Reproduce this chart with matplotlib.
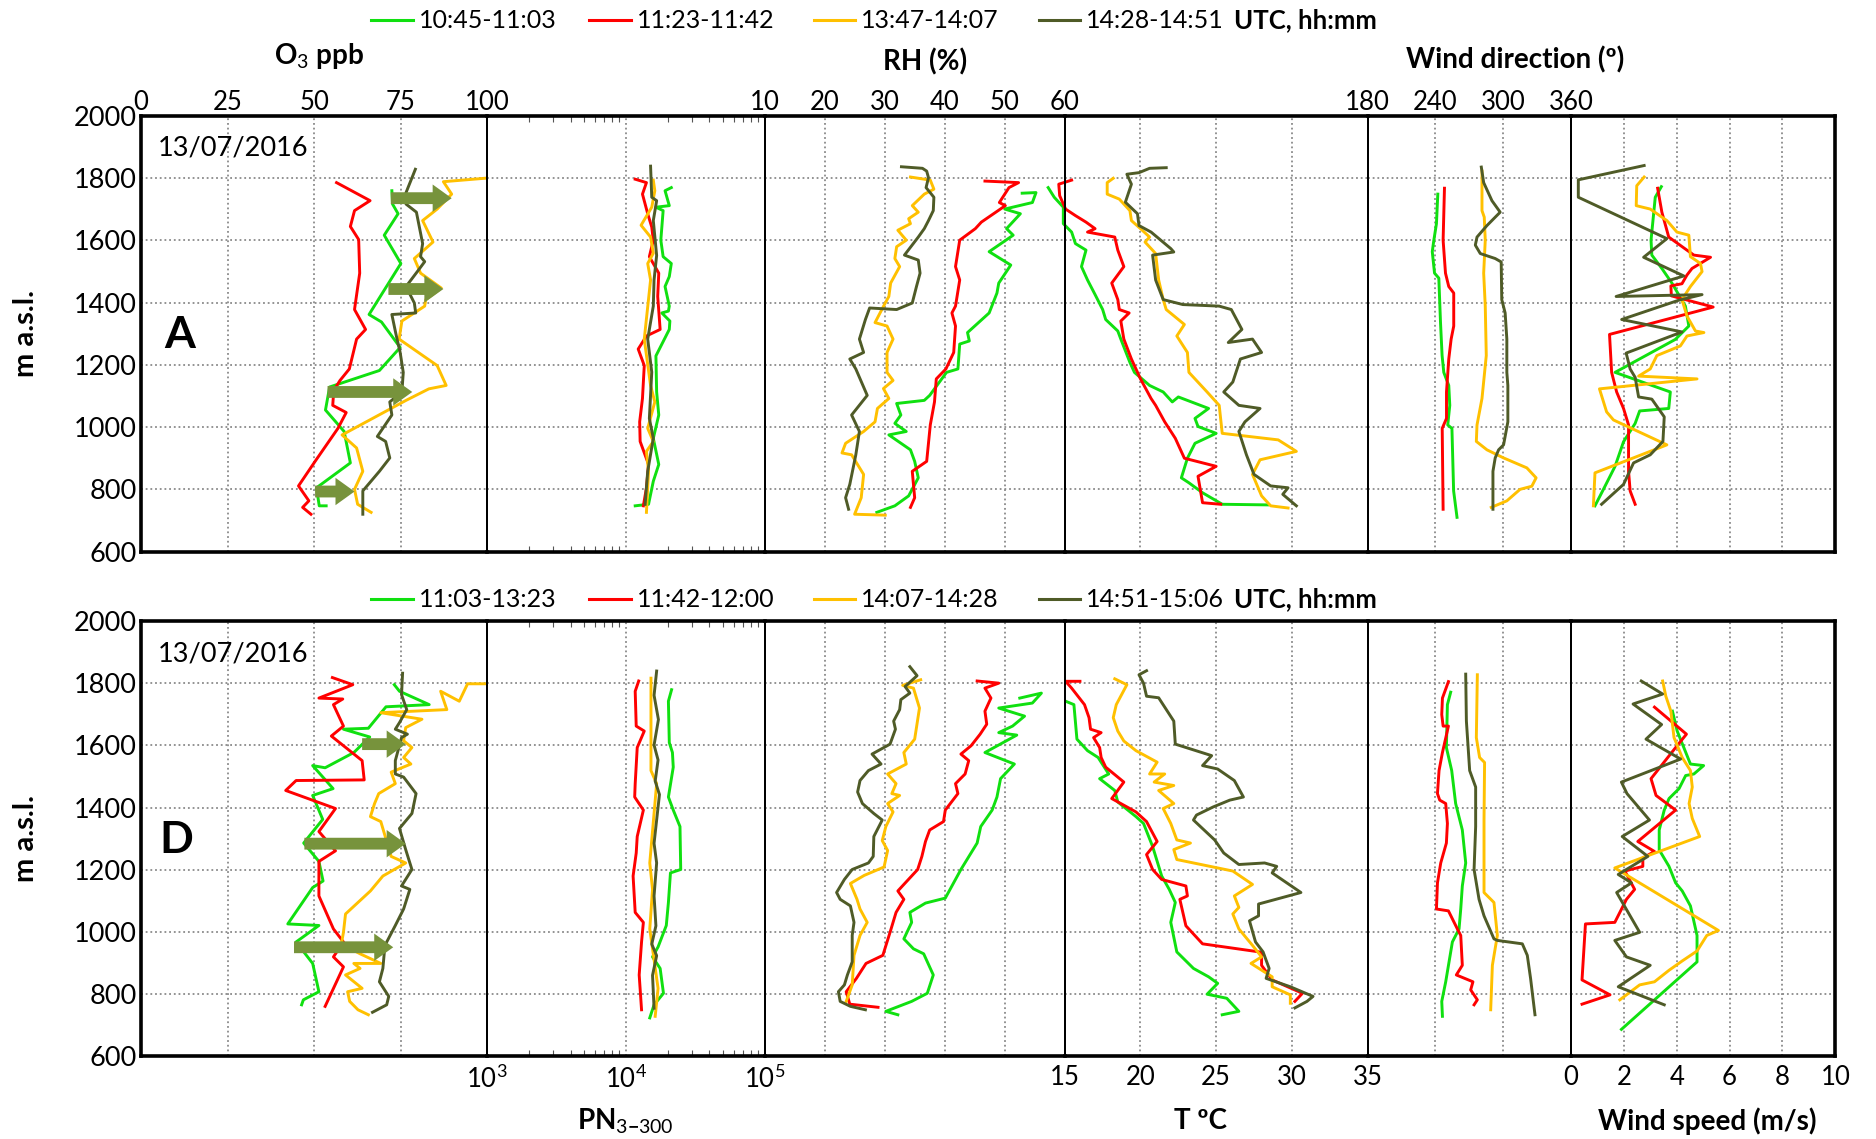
import numpy as np
import matplotlib
matplotlib.use("Agg")
import matplotlib.pyplot as plt
from matplotlib.lines import Line2D

plt.rcParams['font.family'] = ['Lato', 'DejaVu Sans']
plt.rcParams['mathtext.fontset'] = 'custom'
plt.rcParams['mathtext.rm'] = 'Lato'
plt.rcParams['mathtext.bf'] = 'Lato:bold'

GRN = '#10e010'
RED = '#ff0000'
ORG = '#ffc000'
OLV = '#4f5b27'
ARROW = '#77933c'

legend_a = ['10:45-11:03', '11:23-11:42', '13:47-14:07', '14:28-14:51']
legend_d = ['11:03-13:23', '11:42-12:00', '14:07-14:28', '14:51-15:06']

# ---------------- Panel A ----------------
a_o3_grn_v = [72.5, 72.7, 74.3, 70.3, 75.1, 65.9, 69.5, 74.9, 68.9, 54.5, 53.3, 58.7, 60.5, 50.7, 51.5, 53.5]
a_o3_grn_z = [1760, 1717, 1686, 1617, 1526, 1362, 1338, 1256, 1182, 1129, 1055, 986, 885, 805, 747, 747]
a_o3_red_v = [56.5, 66.2, 61.7, 60.5, 62.9, 63.2, 61.7, 64.9, 62.3, 60.2, 57.5, 55.7, 55.4, 59.3, 56.9, 50.3, 45.5, 48.5, 46.7, 49.1]
a_o3_red_z = [1786, 1728, 1696, 1645, 1603, 1495, 1378, 1314, 1283, 1187, 1150, 1118, 1070, 1047, 996, 890, 811, 763, 742, 720]
a_o3_org_v = [99.4, 87.4, 89.8, 85.6, 81.4, 84.4, 79.0, 80.8, 86.8, 82.3, 82.0, 75.4, 74.6, 85.6, 88.2, 83.2, 76.6, 58.1, 62.3, 64.1, 61.7, 62.6, 66.5]
a_o3_org_z = [1800, 1789, 1749, 1701, 1664, 1595, 1542, 1495, 1447, 1410, 1389, 1341, 1283, 1198, 1134, 1123, 1086, 975, 933, 858, 800, 752, 726]
a_o3_olv_v = [79.3, 76.6, 76.6, 79.6, 81.4, 80.8, 82.0, 80.2, 76.6, 79.0, 79.4, 72.5, 73.7, 74.9, 75.8, 75.4, 71.9, 72.5, 68.3, 70.7, 71.9, 68.9, 64.1, 64.1]
a_o3_olv_z = [1829, 1754, 1717, 1691, 1590, 1548, 1532, 1505, 1452, 1399, 1367, 1362, 1298, 1240, 1176, 1113, 1081, 1039, 970, 954, 901, 858, 795, 720]
a_arrow_from = [72.2, 71.5, 53.9, 50.3]
a_arrow_to = [89.8, 87.4, 78.4, 61.7]
a_arrow_z = [1736, 1444, 1113, 793]

a_pn_grn_v = [21300, 19200, 20600, 16500, 18600, 17900, 18600, 21300, 20600, 19200, 20600, 20300, 18200, 20800, 20600, 16500, 16700, 17300, 15800, 17300, 15800, 14600, 11700]
a_pn_grn_z = [1770, 1760, 1712, 1707, 1696, 1601, 1548, 1526, 1484, 1452, 1389, 1373, 1367, 1341, 1314, 1229, 1113, 1039, 964, 880, 826, 752, 747]
a_pn_red_v = [11700, 14100, 13200, 14400, 15400, 15800, 14800, 17300, 17000, 17700, 14100, 12300, 13600, 13200, 12600, 12700, 14600, 14100, 13400]
a_pn_red_z = [1797, 1786, 1749, 1686, 1643, 1601, 1548, 1495, 1420, 1314, 1293, 1251, 1198, 1092, 1017, 954, 880, 805, 747]
a_pn_org_v = [15800, 16200, 15400, 12900, 15100, 15800, 14400, 15100, 13600, 15100, 16200, 14400, 15800, 14100, 14600, 14100]
a_pn_org_z = [1794, 1760, 1707, 1649, 1611, 1559, 1526, 1473, 1283, 1134, 1081, 996, 954, 922, 858, 726]
a_pn_olv_v = [15100, 15400, 16700, 15800, 16700, 16000, 15800, 14400, 15400, 14800, 15800, 14400, 13800]
a_pn_olv_z = [1839, 1739, 1728, 1664, 1552, 1473, 1389, 1283, 1177, 1028, 964, 858, 752]

a_rh_grn_v = [52.9, 55.2, 54.6, 50.0, 52.6, 50.3, 51.4, 47.4, 51.0, 49.0, 48.7, 47.4, 43.8, 44.1, 42.5, 42.2, 40.3, 37.5, 36.6, 32.0, 32.7, 31.7, 33.6, 30.7, 34.3, 35.0, 35.6, 34.0, 31.7, 28.7]
a_rh_grn_z = [1752, 1754, 1722, 1701, 1686, 1638, 1617, 1564, 1521, 1463, 1431, 1367, 1304, 1277, 1267, 1187, 1176, 1102, 1086, 1076, 1039, 1012, 986, 975, 927, 890, 837, 779, 747, 726]
a_rh_red_v = [46.7, 52.3, 50.7, 49.1, 50.1, 46.1, 45.1, 42.5, 41.8, 42.5, 41.8, 41.2, 41.8, 41.5, 40.2, 38.6, 38.3, 37.6, 37.0, 34.6, 35.0, 34.3]
a_rh_red_z = [1791, 1786, 1770, 1722, 1712, 1659, 1638, 1601, 1516, 1473, 1389, 1367, 1325, 1240, 1187, 1155, 1081, 1007, 890, 858, 773, 742]
a_rh_org_v = [34.3, 37.6, 38.2, 36.6, 34.6, 35.6, 34.0, 34.3, 32.2, 33.6, 32.0, 31.7, 32.5, 31.0, 30.7, 30.1, 28.4, 30.4, 31.4, 30.4, 30.4, 31.4, 29.8, 30.7, 28.8, 28.4, 26.5, 23.5, 22.9, 24.5, 26.5, 26.1, 25.0, 30.1]
a_rh_org_z = [1804, 1794, 1765, 1749, 1712, 1691, 1670, 1654, 1633, 1601, 1580, 1542, 1516, 1463, 1420, 1399, 1336, 1325, 1283, 1240, 1176, 1150, 1124, 1092, 1060, 1017, 986, 948, 917, 911, 848, 773, 720, 717]
a_rh_olv_v = [32.8, 36.3, 37.0, 37.3, 36.9, 38.2, 38.1, 37.3, 36.6, 35.6, 33.3, 35.6, 35.9, 35.3, 34.6, 32.0, 27.5, 26.8, 25.8, 26.5, 24.2, 25.2, 27.1, 24.5, 25.8, 25.2, 24.2, 23.5, 24.0]
a_rh_olv_z = [1837, 1832, 1823, 1802, 1770, 1739, 1696, 1664, 1638, 1611, 1553, 1537, 1495, 1452, 1399, 1378, 1383, 1346, 1283, 1240, 1219, 1187, 1102, 1039, 986, 911, 816, 773, 736]

a_t_grn_v = [13.9, 14.3, 14.9, 14.9, 15.45, 15.7, 16.4, 16.1, 16.5, 17.0, 17.5, 17.7, 18.5, 18.7, 19.3, 19.6, 20.6, 21.5, 22.1, 22.5, 24.5, 23.6, 23.8, 25.0, 23.6, 23.1, 22.7, 23.2, 24.1, 25.4, 28.4]
a_t_grn_z = [1770, 1739, 1707, 1654, 1627, 1590, 1569, 1516, 1473, 1426, 1378, 1346, 1309, 1283, 1208, 1176, 1134, 1113, 1081, 1097, 1060, 1028, 1002, 980, 948, 900, 837, 821, 789, 752, 750]
a_t_red_v = [15.45, 14.6, 14.66, 15.05, 15.7, 16.4, 17.0, 16.5, 18.3, 18.5, 18.9, 18.1, 18.5, 18.6, 19.25, 18.7, 18.9, 19.4, 20.0, 20.7, 21.0, 21.6, 22.3, 22.9, 25.0, 23.8, 24.1, 25.3]
a_t_red_z = [1794, 1781, 1744, 1701, 1680, 1659, 1638, 1627, 1611, 1569, 1516, 1463, 1410, 1378, 1367, 1341, 1283, 1219, 1155, 1092, 1070, 1017, 964, 900, 874, 842, 757, 752]
a_t_org_v = [18.2, 17.8, 17.8, 18.6, 19.3, 19.4, 20.0, 20.6, 20.3, 21.0, 21.2, 21.5, 21.7, 22.9, 22.4, 23.1, 23.2, 24.4, 25.2, 25.4, 29.1, 30.3, 27.9, 27.4, 28.0, 28.6, 29.75]
a_t_org_z = [1800, 1786, 1749, 1733, 1696, 1664, 1638, 1611, 1595, 1558, 1473, 1410, 1378, 1330, 1293, 1240, 1176, 1113, 1070, 980, 959, 922, 895, 848, 779, 747, 740]
a_t_olv_v = [21.7, 20.6, 19.9, 19.1, 19.4, 19.0, 19.8, 19.9, 20.7, 22.0, 22.2, 20.8, 21.0, 21.5, 22.8, 25.2, 26.0, 26.7, 25.8, 27.4, 28.0, 26.6, 26.1, 25.5, 26.5, 27.9, 26.9, 26.5, 27.0, 27.5, 28.6, 29.75, 29.4, 30.3]
a_t_olv_z = [1834, 1832, 1818, 1813, 1781, 1723, 1686, 1648, 1627, 1574, 1563, 1553, 1473, 1410, 1394, 1389, 1378, 1314, 1272, 1283, 1240, 1219, 1145, 1113, 1070, 1060, 1017, 986, 911, 848, 811, 805, 784, 747]

a_wd_grn_v = [242.2, 241.0, 238.7, 237.3, 239.3, 243.1, 244.6, 246.0, 247.5, 251.9, 252.8, 251.0, 254.7, 256.2, 259.2]
a_wd_grn_z = [1749, 1654, 1601, 1564, 1495, 1479, 1336, 1230, 1176, 1134, 1070, 1007, 996, 795, 710]
a_wd_red_v = [248.1, 246.9, 249.0, 251.9, 256.3, 256.3, 254.0, 251.9, 249.9, 249.9, 246.1, 246.9]
a_wd_red_z = [1768, 1601, 1495, 1452, 1431, 1325, 1283, 1219, 1113, 1028, 996, 736]
a_wd_org_v = [281.3, 281.3, 283.3, 284.2, 282.8, 284.2, 285.1, 281.3, 276.9, 276.3, 285.7, 300.4, 321.0, 329.2, 325.4, 315.0, 303.3, 289.5]
a_wd_org_z = [1823, 1696, 1675, 1601, 1495, 1389, 1230, 1092, 1007, 954, 927, 901, 869, 837, 810, 800, 763, 742]
a_wd_olv_v = [280.7, 282.8, 290.1, 297.4, 285.7, 276.9, 275.4, 279.8, 293.0, 298.3, 298.8, 301.8, 303.3, 303.3, 304.2, 304.2, 300.4, 296.0, 293.0, 291.0, 291.0]
a_wd_olv_z = [1836, 1786, 1728, 1691, 1648, 1611, 1585, 1558, 1542, 1531, 1410, 1367, 1283, 1176, 1134, 1017, 943, 927, 901, 858, 736]

a_ws_grn_v = [3.42, 3.19, 3.03, 3.06, 3.44, 3.82, 4.33, 4.46, 3.95, 1.67, 3.76, 3.7, 2.6, 2.43, 1.99, 1.67, 1.23, 0.91]
a_ws_grn_z = [1773, 1739, 1601, 1553, 1510, 1463, 1389, 1325, 1282, 1176, 1113, 1060, 1052, 1012, 953, 874, 800, 747]
a_ws_red_v = [3.28, 3.44, 3.7, 4.65, 5.28, 4.58, 4.39, 4.2, 3.78, 3.8, 5.38, 1.46, 1.54, 1.73, 1.99, 2.18, 2.18, 2.24, 2.43]
a_ws_red_z = [1768, 1691, 1611, 1553, 1546, 1510, 1489, 1461, 1454, 1422, 1386, 1298, 1176, 1113, 1060, 1007, 858, 795, 752]
a_ws_org_v = [2.77, 2.49, 2.47, 3.0, 3.63, 4.01, 4.46, 4.52, 4.9, 4.96, 4.52, 4.2, 4.39, 4.71, 5.03, 4.39, 4.14, 3.25, 3.0, 2.56, 4.77, 1.08, 1.35, 1.61, 3.63, 0.91, 0.85]
a_ws_org_z = [1804, 1776, 1712, 1701, 1664, 1627, 1617, 1548, 1526, 1500, 1452, 1410, 1357, 1309, 1304, 1293, 1261, 1230, 1187, 1164, 1155, 1123, 1049, 1023, 943, 853, 747]
a_ws_olv_v = [2.77, 0.28, 0.28, 3.63, 2.75, 4.27, 1.71, 4.96, 4.08, 1.92, 4.2, 2.09, 2.24, 2.43, 2.56, 3.06, 3.53, 3.48, 3.0, 2.37, 1.99, 1.16]
a_ws_olv_z = [1841, 1795, 1739, 1606, 1546, 1486, 1420, 1426, 1408, 1346, 1306, 1238, 1187, 1160, 1097, 1090, 1033, 954, 911, 885, 816, 752]

# ---------------- Panel D ----------------
d_o3_grn_v = [73.2, 74.7, 83.3, 70.8, 65.7, 58.5, 66.1, 61.5, 53.2, 49.6, 55.5, 49.6, 52.5, 47.0, 51.4, 52.6, 49.6, 42.4, 51.4, 44.8, 49.6, 51.4, 46.9, 46.4]
d_o3_grn_z = [1795, 1774, 1731, 1724, 1655, 1652, 1627, 1577, 1528, 1535, 1461, 1439, 1362, 1286, 1227, 1164, 1143, 1026, 1021, 968, 899, 808, 782, 766]
d_o3_red_v = [55.3, 61.2, 51.4, 58.3, 55.6, 58.5, 55.0, 63.9, 64.5, 44.8, 41.8, 56.2, 51.4, 56.2, 51.4, 51.4, 55.6, 58.5, 55.6, 58.5, 53.2]
d_o3_red_z = [1818, 1795, 1752, 1749, 1731, 1662, 1630, 1551, 1489, 1487, 1455, 1397, 1323, 1261, 1227, 1116, 1010, 968, 920, 888, 761]
d_o3_org_v = [99.8, 94.4, 92.0, 86.6, 88.4, 69.3, 81.2, 76.5, 75.9, 78.3, 75.9, 78.0, 72.3, 73.5, 68.7, 67.5, 66.3, 69.3, 72.3, 76.5, 69.9, 66.3, 59.1, 58.5, 57.9, 63.3, 69.3, 61.5, 63.3, 59.1, 63.9, 59.7, 60.3, 62.7, 65.7]
d_o3_org_z = [1798, 1798, 1742, 1774, 1715, 1705, 1684, 1657, 1615, 1593, 1561, 1540, 1514, 1477, 1445, 1413, 1371, 1355, 1243, 1222, 1180, 1132, 1058, 999, 962, 930, 899, 899, 883, 862, 819, 808, 777, 750, 734]
d_o3_olv_v = [75.6, 75.3, 76.8, 74.7, 73.5, 77.0, 75.3, 73.5, 73.5, 75.9, 79.5, 78.3, 74.7, 76.5, 78.3, 75.3, 77.7, 75.9, 73.5, 70.5, 69.9, 68.9, 71.6, 71.0, 66.9]
d_o3_olv_z = [1832, 1763, 1715, 1673, 1652, 1636, 1625, 1551, 1508, 1498, 1445, 1381, 1333, 1265, 1201, 1148, 1137, 1074, 1021, 957, 883, 840, 793, 766, 742]
d_arrow_from = [63.9, 47.2, 44.2]
d_arrow_to = [76.5, 76.5, 72.9]
d_arrow_z = [1604, 1284, 951]

d_pn_grn_v = [21400, 20300, 20600, 21700, 22000, 20300, 22000, 24600, 24900, 21000, 20300, 19600, 17100, 15600, 17700, 18700, 16000, 14900]
d_pn_grn_z = [1779, 1742, 1609, 1577, 1530, 1434, 1392, 1339, 1201, 1190, 1095, 1021, 952, 920, 883, 803, 766, 724]
d_pn_red_v = [12400, 11700, 11900, 13600, 12100, 11700, 11600, 13400, 12100, 11900, 11300, 11700, 13400, 13000, 12500, 13000]
d_pn_red_z = [1807, 1774, 1662, 1646, 1593, 1477, 1434, 1392, 1307, 1254, 1180, 1063, 1031, 968, 862, 750]
d_pn_org_v = [15200, 15200, 16700, 14900, 15600, 14900, 17100, 16300]
d_pn_org_z = [1816, 1519, 1477, 1222, 1137, 1010, 819, 729]
d_pn_olv_v = [16700, 16000, 17200, 16000, 17100, 16300, 17500, 16000, 16700, 16000, 16500, 15400, 16700, 15600, 16000]
d_pn_olv_z = [1839, 1761, 1683, 1601, 1553, 1485, 1442, 1285, 1222, 1116, 1020, 961, 924, 861, 755]

d_rh_grn_v = [52.5, 56.1, 54.6, 49.0, 53.3, 51.3, 49.0, 52.0, 46.7, 51.6, 49.3, 48.7, 47.9, 46.0, 45.4, 42.7, 40.1, 36.8, 34.2, 34.5, 33.2, 34.8, 36.5, 38.1, 37.1, 34.5, 30.2, 32.2]
d_rh_grn_z = [1752, 1768, 1736, 1720, 1694, 1662, 1641, 1633, 1577, 1540, 1493, 1434, 1392, 1339, 1286, 1201, 1109, 1093, 1063, 1031, 978, 946, 930, 862, 803, 777, 745, 734]
d_rh_red_v = [45.4, 49.0, 46.7, 47.7, 46.7, 47.0, 45.9, 44.4, 42.7, 44.0, 43.4, 41.8, 42.2, 40.1, 39.8, 37.5, 36.8, 36.2, 35.5, 33.2, 32.2, 33.2, 31.9, 30.9, 29.7, 26.9, 25.3, 23.6, 24.2, 28.9]
d_rh_red_z = [1807, 1800, 1784, 1752, 1710, 1668, 1636, 1599, 1572, 1551, 1508, 1477, 1445, 1392, 1355, 1328, 1291, 1243, 1201, 1153, 1132, 1105, 1063, 999, 925, 899, 851, 808, 768, 758]
d_rh_org_v = [36.0, 33.0, 34.8, 35.8, 35.0, 33.2, 33.6, 30.5, 31.9, 31.2, 32.5, 30.5, 31.4, 30.2, 29.6, 30.5, 29.9, 26.6, 24.3, 25.4, 25.9, 27.1, 25.9, 24.9, 24.6, 23.6]
d_rh_org_z = [1811, 1793, 1784, 1720, 1620, 1577, 1540, 1508, 1477, 1445, 1439, 1413, 1386, 1339, 1294, 1262, 1209, 1182, 1156, 1105, 1074, 1031, 989, 925, 830, 777]
d_rh_olv_v = [34.2, 35.4, 33.4, 34.2, 32.7, 32.5, 31.5, 31.8, 30.9, 27.9, 29.4, 27.3, 25.9, 25.5, 26.3, 28.2, 29.6, 28.2, 28.1, 27.3, 24.6, 23.3, 22.0, 22.6, 24.3, 24.9, 24.6, 24.6, 23.8, 23.3, 22.3, 22.6, 24.3, 26.8]
d_rh_olv_z = [1853, 1824, 1789, 1768, 1747, 1715, 1678, 1652, 1604, 1572, 1540, 1519, 1487, 1450, 1413, 1381, 1360, 1307, 1243, 1222, 1201, 1169, 1127, 1105, 1084, 1031, 989, 904, 862, 830, 808, 777, 761, 750]

d_t_grn_v = [15.1, 15.6, 15.8, 16.5, 17.2, 17.9, 17.3, 18.3, 18.5, 19.7, 20.2, 20.8, 21.4, 21.9, 22.3, 22.0, 22.4, 23.5, 24.5, 25.1, 24.4, 25.7, 26.5, 25.4]
d_t_grn_z = [1741, 1731, 1620, 1583, 1561, 1508, 1493, 1455, 1418, 1371, 1349, 1275, 1180, 1137, 1095, 1031, 936, 883, 856, 835, 800, 787, 745, 734]
d_t_red_v = [16.0, 15.05, 15.45, 16.3, 16.6, 16.7, 17.4, 16.9, 17.3, 17.4, 17.7, 18.9, 18.1, 18.7, 19.7, 20.4, 21.1, 20.4, 20.8, 21.4, 23.0, 23.1, 22.6, 23.0, 24.1, 28.0, 28.0, 28.7, 30.7, 30.2]
d_t_red_z = [1806, 1806, 1784, 1731, 1689, 1652, 1641, 1625, 1593, 1561, 1530, 1482, 1429, 1413, 1386, 1355, 1291, 1249, 1201, 1169, 1148, 1116, 1105, 1020, 962, 935, 893, 846, 803, 777]
d_t_org_v = [18.3, 19.1, 18.4, 18.2, 18.5, 18.9, 19.7, 21.1, 20.6, 21.6, 20.9, 22.2, 21.2, 22.2, 21.5, 22.0, 22.4, 23.3, 22.2, 22.4, 26.1, 27.4, 26.2, 26.5, 26.1, 26.5, 27.4, 28.0, 27.3, 28.7, 28.7, 29.9, 29.9]
d_t_org_z = [1814, 1795, 1731, 1689, 1646, 1614, 1583, 1546, 1508, 1508, 1482, 1471, 1455, 1413, 1397, 1349, 1296, 1286, 1265, 1233, 1196, 1153, 1116, 1079, 1058, 1010, 957, 920, 899, 856, 824, 798, 771]
d_t_olv_v = [20.4, 19.9, 20.2, 20.4, 21.2, 22.2, 22.3, 24.7, 24.1, 25.1, 26.2, 26.8, 25.9, 24.8, 23.7, 23.5, 24.9, 25.5, 26.5, 28.2, 29.0, 28.7, 30.6, 27.8, 27.8, 27.2, 27.6, 28.1, 28.5, 28.3, 29.9, 31.4, 31.0, 30.2]
d_t_olv_z = [1840, 1827, 1800, 1758, 1753, 1678, 1604, 1567, 1535, 1524, 1487, 1434, 1424, 1402, 1376, 1360, 1296, 1254, 1217, 1222, 1211, 1190, 1127, 1090, 1052, 1036, 968, 936, 883, 851, 824, 793, 777, 756]

d_wd_grn_v = [253.6, 250.7, 249.8, 254.5, 258.0, 263.9, 266.9, 263.9, 262.5, 261.0, 255.1, 249.2, 245.7, 246.3]
d_wd_grn_z = [1771, 1731, 1593, 1519, 1413, 1328, 1222, 1148, 1074, 1010, 968, 840, 777, 729]
d_wd_red_v = [251.6, 246.3, 245.7, 246.9, 251.6, 246.3, 243.3, 241.9, 243.9, 249.2, 250.7, 249.8, 244.8, 241.9, 241.0, 251.6, 259.5, 262.5, 263.9, 258.6, 273.3, 271.3, 277.2, 274.3]
d_wd_red_z = [1805, 1752, 1699, 1662, 1662, 1577, 1519, 1445, 1424, 1413, 1349, 1286, 1222, 1158, 1074, 1068, 1010, 989, 893, 862, 840, 814, 782, 766]
d_wd_org_v = [277.2, 276.3, 279.2, 283.6, 283.1, 283.1, 291.9, 294.9, 290.5, 289.0]
d_wd_org_z = [1827, 1625, 1561, 1545, 1360, 1127, 1095, 989, 893, 750]
d_wd_olv_v = [266.9, 267.5, 270.4, 275.7, 275.7, 274.3, 278.7, 283.1, 291.9, 294.9, 317.0, 321.4, 324.3, 328.2]
d_wd_olv_z = [1829, 1678, 1519, 1466, 1339, 1201, 1105, 1052, 978, 973, 962, 925, 851, 734]

d_ws_grn_v = [3.84, 4.02, 4.52, 5.02, 4.65, 4.34, 4.09, 3.71, 3.53, 3.34, 3.34, 3.71, 3.96, 4.21, 4.52, 4.77, 4.77, 1.91]
d_ws_grn_z = [1710, 1646, 1540, 1535, 1508, 1503, 1461, 1429, 1392, 1328, 1264, 1211, 1158, 1132, 1084, 989, 904, 687]
d_ws_red_v = [3.16, 4.37, 3.96, 3.03, 3.22, 3.96, 2.53, 3.16, 2.72, 2.72, 2.04, 2.41, 2.1, 1.66, 0.55, 0.42, 1.48, 0.42]
d_ws_red_z = [1723, 1636, 1593, 1493, 1439, 1392, 1291, 1259, 1238, 1211, 1196, 1137, 1105, 1031, 1026, 846, 798, 768]
d_ws_org_v = [3.47, 3.59, 3.78, 3.9, 4.21, 4.52, 4.59, 4.47, 4.59, 4.87, 1.66, 5.58, 5.14, 4.77, 4.21, 3.71, 3.16, 2.6, 1.85]
d_ws_org_z = [1807, 1758, 1710, 1625, 1561, 1519, 1466, 1413, 1365, 1307, 1206, 1005, 989, 939, 907, 877, 840, 830, 782]
d_ws_olv_v = [2.66, 3.47, 2.35, 3.43, 2.84, 4.15, 1.91, 2.12, 2.97, 1.94, 2.91, 1.79, 2.29, 1.73, 2.6, 1.66, 2.1, 3.0, 1.79, 3.53]
d_ws_olv_z = [1807, 1765, 1733, 1667, 1620, 1556, 1482, 1445, 1360, 1307, 1243, 1185, 1158, 1127, 999, 973, 920, 893, 824, 766]

# axis definitions for the six sub-plots
keys = ['o3', 'pn', 'rh', 't', 'wd', 'ws']
xlims = {'o3': (0, 100), 'pn': (1e3, 1e5), 'rh': (10, 60), 't': (15, 35), 'wd': (180, 360), 'ws': (0, 10)}
xticks = {'o3': [0, 25, 50, 75, 100], 'pn': [1e3, 1e4, 1e5], 'rh': [10, 20, 30, 40, 50, 60],
          't': [15, 20, 25, 30, 35], 'wd': [180, 240, 300, 360], 'ws': [0, 2, 4, 6, 8, 10]}
xgrid = {'o3': [25, 50, 75], 'pn': [1e4], 'rh': [20, 30, 40, 50], 't': [20, 25, 30], 'wd': [240, 300], 'ws': [2, 4, 6, 8]}
top_keys = ['o3', 'rh', 'wd']

W, H = 1568, 952
xb = [118, 407, 639, 890, 1143, 1313, 1534]
TICK_FS = 18.5

fig = plt.figure(figsize=(18.76, 11.39), dpi=100)


def make_panel(top_px, bot_px, show_top, show_bottom):
    axes = {}
    for i, k in enumerate(keys):
        l = xb[i] / W
        r = xb[i + 1] / W
        ax = fig.add_axes([l, 1 - bot_px / H, r - l, (bot_px - top_px) / H])
        ax.patch.set_alpha(0)
        if k == 'pn':
            ax.set_xscale('log')
        ax.set_xlim(*xlims[k])
        ax.set_ylim(600, 2000)
        ax.set_xticks(xticks[k])
        if k == 'pn':
            ax.set_xticklabels(['$10^3$', '$10^4$', '$10^5$'])
            ax.tick_params(axis='x', which='minor', direction='in', length=4, top=True, bottom=True,
                           width=0.8, color='#555555')
        else:
            ax.set_xticklabels([str(v) for v in xticks[k]])
        if k in top_keys:
            ax.tick_params(axis='x', which='major', length=0, labelsize=TICK_FS, pad=1,
                           labeltop=show_top, labelbottom=False)
        else:
            ax.tick_params(axis='x', which='major', length=0, labelsize=TICK_FS, pad=6,
                           labeltop=False, labelbottom=show_bottom)
        if i == 0:
            ax.set_yticks(range(600, 2001, 200))
            ax.tick_params(axis='y', length=0, labelsize=19.5, pad=3)
        else:
            ax.set_yticks([])
        for z in range(800, 1801, 200):
            ax.axhline(z, ls=(0, (1, 1.6)), color='#8a8a8a', lw=1.3, zorder=0)
        for g in xgrid[k]:
            ax.axvline(g, ls=(0, (1, 1.6)), color='#8a8a8a', lw=1.3, zorder=0)
        for s in ['top', 'bottom']:
            ax.spines[s].set_linewidth(2.6)
        ax.spines['left'].set_linewidth(2.6 if i == 0 else 1.4)
        ax.spines['right'].set_linewidth(2.6 if i == 5 else 1.4)
        axes[k] = ax
    return axes


def draw_series(ax, series):
    for v, z, c in series:
        ax.plot(v, z, color=c, lw=2.1, clip_on=False, zorder=2)


def draw_arrows(ax, x0s, x1s, zs):
    for x0, x1, z in zip(x0s, x1s, zs):
        ax.arrow(x0, z, x1 - x0, 0, width=38, head_width=88, head_length=5.5,
                 length_includes_head=True, color=ARROW, lw=0, zorder=3)


ax_a = make_panel(97, 461, True, False)
ax_d = make_panel(519, 883, False, True)

draw_series(ax_a['o3'], [(a_o3_grn_v, a_o3_grn_z, GRN), (a_o3_red_v, a_o3_red_z, RED),
                         (a_o3_org_v, a_o3_org_z, ORG), (a_o3_olv_v, a_o3_olv_z, OLV)])
draw_arrows(ax_a['o3'], a_arrow_from, a_arrow_to, a_arrow_z)
draw_series(ax_a['pn'], [(a_pn_grn_v, a_pn_grn_z, GRN), (a_pn_red_v, a_pn_red_z, RED),
                         (a_pn_org_v, a_pn_org_z, ORG), (a_pn_olv_v, a_pn_olv_z, OLV)])
draw_series(ax_a['rh'], [(a_rh_grn_v, a_rh_grn_z, GRN), (a_rh_red_v, a_rh_red_z, RED),
                         (a_rh_org_v, a_rh_org_z, ORG), (a_rh_olv_v, a_rh_olv_z, OLV)])
draw_series(ax_a['t'], [(a_t_grn_v, a_t_grn_z, GRN), (a_t_red_v, a_t_red_z, RED),
                        (a_t_org_v, a_t_org_z, ORG), (a_t_olv_v, a_t_olv_z, OLV)])
draw_series(ax_a['wd'], [(a_wd_grn_v, a_wd_grn_z, GRN), (a_wd_red_v, a_wd_red_z, RED),
                         (a_wd_org_v, a_wd_org_z, ORG), (a_wd_olv_v, a_wd_olv_z, OLV)])
draw_series(ax_a['ws'], [(a_ws_grn_v, a_ws_grn_z, GRN), (a_ws_red_v, a_ws_red_z, RED),
                         (a_ws_org_v, a_ws_org_z, ORG), (a_ws_olv_v, a_ws_olv_z, OLV)])

draw_series(ax_d['o3'], [(d_o3_grn_v, d_o3_grn_z, GRN), (d_o3_red_v, d_o3_red_z, RED),
                         (d_o3_org_v, d_o3_org_z, ORG), (d_o3_olv_v, d_o3_olv_z, OLV)])
draw_arrows(ax_d['o3'], d_arrow_from, d_arrow_to, d_arrow_z)
draw_series(ax_d['pn'], [(d_pn_grn_v, d_pn_grn_z, GRN), (d_pn_red_v, d_pn_red_z, RED),
                         (d_pn_org_v, d_pn_org_z, ORG), (d_pn_olv_v, d_pn_olv_z, OLV)])
draw_series(ax_d['rh'], [(d_rh_grn_v, d_rh_grn_z, GRN), (d_rh_red_v, d_rh_red_z, RED),
                         (d_rh_org_v, d_rh_org_z, ORG), (d_rh_olv_v, d_rh_olv_z, OLV)])
draw_series(ax_d['t'], [(d_t_grn_v, d_t_grn_z, GRN), (d_t_red_v, d_t_red_z, RED),
                        (d_t_org_v, d_t_org_z, ORG), (d_t_olv_v, d_t_olv_z, OLV)])
draw_series(ax_d['wd'], [(d_wd_grn_v, d_wd_grn_z, GRN), (d_wd_red_v, d_wd_red_z, RED),
                         (d_wd_org_v, d_wd_org_z, ORG), (d_wd_olv_v, d_wd_olv_z, OLV)])
draw_series(ax_d['ws'], [(d_ws_grn_v, d_ws_grn_z, GRN), (d_ws_red_v, d_ws_red_z, RED),
                         (d_ws_org_v, d_ws_org_z, ORG), (d_ws_olv_v, d_ws_olv_z, OLV)])


# legends along the top of each panel
def legend_row(y_px, labels):
    line_x = [310, 492, 680, 868]
    for x0, lab, c in zip(line_x, labels, [GRN, RED, ORG, OLV]):
        fig.add_artist(Line2D([x0 / W, (x0 + 35) / W], [1 - y_px / H] * 2,
                              transform=fig.transFigure, color=c, lw=2.2))
        fig.text((x0 + 40) / W, 1 - y_px / H, lab, fontsize=18, va='center', ha='left')
    fig.text(1031 / W, 1 - y_px / H, 'UTC, hh:mm', fontsize=18.5, fontweight='bold', va='center', ha='left')


legend_row(17, legend_a)
legend_row(501, legend_d)

# axis titles
TITLE_FS = 20
fig.text(267 / W, 1 - 47 / H, 'O$_3$ ppb', fontsize=TITLE_FS, fontweight='bold', ha='center', va='center')
fig.text(773 / W, 1 - 52 / H, 'RH (%)', fontsize=TITLE_FS, fontweight='bold', ha='center', va='center')
fig.text(1266 / W, 1 - 50 / H, 'Wind direction (º)', fontsize=TITLE_FS, fontweight='bold', ha='center', va='center')
fig.text(523 / W, 1 - 937 / H, 'PN$_{3\\mathbf{-}300}$', fontsize=TITLE_FS, fontweight='bold', ha='center', va='center')
fig.text(1003 / W, 1 - 937 / H, 'T ºC', fontsize=TITLE_FS, fontweight='bold', ha='center', va='center')
fig.text(1427 / W, 1 - 937 / H, 'Wind speed (m/s)', fontsize=TITLE_FS, fontweight='bold', ha='center', va='center')

for yc in [279, 701]:
    fig.text(22 / W, 1 - yc / H, 'm a.s.l.', fontsize=21, fontweight='bold', rotation=90,
             ha='center', va='center')

fig.text(132 / W, 1 - 124 / H, '13/07/2016', fontsize=19.5, ha='left', va='center')
fig.text(132 / W, 1 - 547 / H, '13/07/2016', fontsize=19.5, ha='left', va='center')
fig.text(150 / W, 1 - 280 / H, 'A', fontsize=32, fontweight='bold', ha='center', va='center')
fig.text(147 / W, 1 - 702 / H, 'D', fontsize=32, fontweight='bold', ha='center', va='center')

fig.savefig('out.png', dpi=100, facecolor='white')
